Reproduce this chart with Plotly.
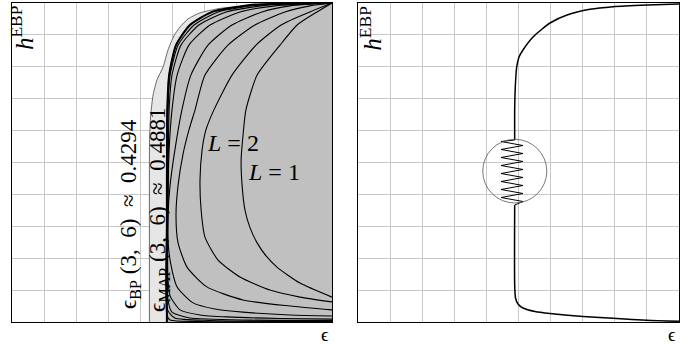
import plotly.graph_objects as go

# ---- left panel: EBP curves of the coupled (3,6,L) ensembles ----
L1_eps = [1.0, 0.953, 0.891, 0.8375, 0.766, 0.731, 0.722, 0.716, 0.719, 0.728, 0.744, 0.766, 0.794, 0.828, 0.9, 1.0]
L1_h = [1.0, 0.972, 0.931, 0.868, 0.774, 0.665, 0.586, 0.508, 0.429, 0.351, 0.295, 0.248, 0.207, 0.172, 0.122, 0.078]

L2_eps = [1.0, 0.931, 0.841, 0.7625, 0.6875, 0.631, 0.606, 0.594, 0.5875, 0.591, 0.603, 0.644, 0.7125, 0.806, 0.9, 1.0]
L2_h = [1.0, 0.972, 0.931, 0.868, 0.774, 0.665, 0.602, 0.539, 0.445, 0.351, 0.266, 0.194, 0.141, 0.100, 0.078, 0.063]

L4_eps = [1.0, 0.931, 0.853, 0.759, 0.675, 0.603, 0.572, 0.553, 0.534, 0.519, 0.5125, 0.519, 0.547, 0.609, 0.722, 0.869, 1.0]
L4_h = [1.0, 0.991, 0.972, 0.931, 0.868, 0.774, 0.665, 0.602, 0.524, 0.429, 0.335, 0.248, 0.172, 0.110, 0.069, 0.050, 0.038]

L8_eps = [1.0, 0.869, 0.781, 0.6875, 0.6125, 0.559, 0.531, 0.509, 0.494, 0.4875, 0.4875, 0.494, 0.516, 0.566, 0.634, 0.722, 0.869, 1.0]
L8_h = [1.0, 0.991, 0.972, 0.931, 0.868, 0.774, 0.665, 0.539, 0.429, 0.335, 0.257, 0.194, 0.110, 0.060, 0.041, 0.031, 0.022, 0.019]

L16_eps = [1.0, 0.822, 0.7125, 0.619, 0.553, 0.516, 0.5, 0.491, 0.4875, 0.4875, 0.494, 0.525, 0.5875, 0.672, 0.8375, 1.0]
L16_h = [1.0, 0.991, 0.972, 0.931, 0.868, 0.774, 0.665, 0.539, 0.382, 0.132, 0.082, 0.038, 0.022, 0.016, 0.011, 0.009]

L32_eps = [1.0, 0.806, 0.669, 0.584, 0.528, 0.5, 0.491, 0.4875, 0.4875, 0.5, 0.556, 0.744, 1.0]
L32_h = [1.0, 0.994, 0.972, 0.931, 0.868, 0.774, 0.665, 0.382, 0.069, 0.031, 0.0125, 0.006, 0.0047]

L64_eps = [1.0, 0.781, 0.644, 0.569, 0.519, 0.494, 0.4875, 0.486, 0.486, 0.509, 0.619, 1.0]
L64_h = [1.0, 0.995, 0.972, 0.931, 0.868, 0.774, 0.665, 0.382, 0.038, 0.0125, 0.0047, 0.0016]

L128_eps = [1.0, 0.759, 0.7125, 0.625, 0.556, 0.5125, 0.491, 0.4853, 0.484, 0.484, 0.494, 0.5875, 1.0]
L128_h = [1.0, 0.995, 0.989, 0.972, 0.931, 0.868, 0.774, 0.665, 0.382, 0.022, 0.006, 0.0016, 0.0]

# BP EXIT curve of the uncoupled (3,6) ensemble (light grey area)
bp_eps = [0.4294, 0.4294, 0.4298, 0.4335, 0.441, 0.453, 0.472, 0.4875, 0.506, 0.525, 0.55, 0.5875, 0.65, 0.744, 0.869, 1.0]
bp_h = [0.0, 0.473, 0.571, 0.649, 0.712, 0.759, 0.799, 0.853, 0.897, 0.925, 0.950, 0.969, 0.983, 0.992, 0.997, 1.0]

# MAP EXIT curve (dark grey area)
map_eps = [0.484, 0.484, 0.4853, 0.491, 0.5125, 0.556, 0.625, 0.7125, 0.759, 1.0]
map_h = [0.0, 0.382, 0.665, 0.774, 0.868, 0.931, 0.972, 0.989, 0.995, 1.0]

# ---- right panel: EBP curve of one coupled ensemble ----
up_eps = [0.4881, 0.4881, 0.4900, 0.4944, 0.5016, 0.5140, 0.5452, 0.5981, 0.6511, 0.7227, 0.7944, 0.9003, 1.0]
up_h = [0.5705, 0.6646, 0.7367, 0.7994, 0.8307, 0.8527, 0.8934, 0.9373, 0.9624, 0.9802, 0.9884, 0.9937, 0.9969]

low_eps = [0.4881, 0.4881, 0.4907, 0.4984, 0.5140, 0.5514, 0.5981, 0.7009, 0.8069, 0.9003, 1.0]
low_h = [0.3668, 0.1160, 0.0752, 0.0564, 0.0439, 0.0329, 0.0266, 0.0172, 0.0110, 0.0053, 0.0022]

zig_eps = [0.4881, 0.4455, 0.514, 0.4455, 0.514, 0.4455, 0.514, 0.4455, 0.514,
           0.4455, 0.514, 0.4455, 0.514, 0.4455, 0.514, 0.4455, 0.514, 0.4881]
zig_h = [0.5705, 0.5658, 0.5533, 0.5408, 0.5282, 0.5157, 0.5031, 0.4906, 0.4781,
         0.4655, 0.4530, 0.4404, 0.4279, 0.4154, 0.4028, 0.3903, 0.3777, 0.3668]

FONT = "Liberation Serif, DejaVu Serif, serif"
SM = 0.6

fig = go.Figure()

fig.add_trace(go.Scatter(x=bp_eps, y=bp_h, fill='tozeroy', fillcolor='#e6e6e6', mode='lines',
                         line=dict(color='#444', width=0.8, shape='spline', smoothing=SM),
                         xaxis='x', yaxis='y'))
fig.add_trace(go.Scatter(x=map_eps, y=map_h, fill='tozeroy', fillcolor='#c0c0c0', mode='lines',
                         line=dict(color='black', width=2, shape='spline', smoothing=SM),
                         xaxis='x', yaxis='y'))

for ex, hy in [(L1_eps, L1_h), (L2_eps, L2_h), (L4_eps, L4_h), (L8_eps, L8_h),
               (L16_eps, L16_h), (L32_eps, L32_h), (L64_eps, L64_h), (L128_eps, L128_h)]:
    fig.add_trace(go.Scatter(x=ex, y=hy, mode='lines',
                             line=dict(color='black', width=1.1, shape='spline', smoothing=SM),
                             xaxis='x', yaxis='y'))

fig.add_trace(go.Scatter(x=up_eps, y=up_h, mode='lines',
                         line=dict(color='black', width=1.5, shape='spline', smoothing=SM),
                         xaxis='x2', yaxis='y2'))
fig.add_trace(go.Scatter(x=low_eps, y=low_h, mode='lines',
                         line=dict(color='black', width=1.5, shape='spline', smoothing=SM),
                         xaxis='x2', yaxis='y2'))
fig.add_trace(go.Scatter(x=zig_eps, y=zig_h, mode='lines',
                         line=dict(color='black', width=1),
                         xaxis='x2', yaxis='y2'))

ax = dict(range=[0, 1], tick0=0, dtick=0.1, showgrid=True, gridcolor='#c8c8c8', gridwidth=1,
          showticklabels=False, ticks='', zeroline=False, showline=True,
          linecolor='black', linewidth=1.2, mirror=True, fixedrange=True)

fig.update_layout(
    width=689, height=348,
    margin=dict(l=12, r=10, t=3, b=26),
    plot_bgcolor='white', paper_bgcolor='white',
    showlegend=False,
    xaxis=dict(ax, domain=[0, 320 / 667]),
    yaxis=dict(ax, domain=[0, 1]),
    xaxis2=dict(ax, domain=[346 / 667, 1], anchor='y2'),
    yaxis2=dict(ax, domain=[0, 1], anchor='x2'),
    font=dict(family=FONT, color='black'),
)

fig.add_shape(type='circle', xref='x2', yref='y2', x0=0.3886, x1=0.5882, y0=0.373, y1=0.5727,
              line=dict(color='#555', width=0.8))

S = '\u00a0'
txt = dict(showarrow=False, font=dict(family=FONT, size=23, color='black'))
fig.add_annotation(x=0.369, y=0.339, xref='x', yref='y', textangle=-90,
                   text='ϵ<sub>BP</sub>' + S + '(3,' + S * 2 + '6)' + S * 2 + '≈' + S * 2 + '0.4294', **txt)
fig.add_annotation(x=0.459, y=0.351, xref='x', yref='y', textangle=-90,
                   text='ϵ<sub>MAP</sub>' + S + '(3,' + S * 2 + '6)' + S * 2 + '≈' + S * 2 + '0.4881', **txt)
ltxt = dict(showarrow=False, font=dict(family=FONT, size=24, color='black'))
fig.add_annotation(x=0.691, y=0.561, xref='x', yref='y', text='<i>L</i>' + S + '=' + S + '2', **ltxt)
fig.add_annotation(x=0.819, y=0.470, xref='x', yref='y', text='<i>L</i>' + S + '=' + S + '1', **ltxt)

hlab = dict(showarrow=False, textangle=-90, font=dict(family=FONT, size=25, color='black'))
fig.add_annotation(x=0.032, y=0.922, xref='x', yref='y', text='<i>h</i><sup>EBP</sup>', **hlab)
fig.add_annotation(x=0.040, y=0.922, xref='x2', yref='y2', text='<i>h</i><sup>EBP</sup>', **hlab)

elab = dict(showarrow=False, xanchor='center', yanchor='bottom',
            font=dict(family=FONT, size=19, color='black'))
fig.add_annotation(x=0.978, y=-0.078, xref='x domain', yref='paper', text='ϵ', **elab)
fig.add_annotation(x=0.978, y=-0.078, xref='x2 domain', yref='paper', text='ϵ', **elab)

fig.write_html("out.html", config={'displayModeBar': False},
               post_script="document.body.style.margin='0';")
